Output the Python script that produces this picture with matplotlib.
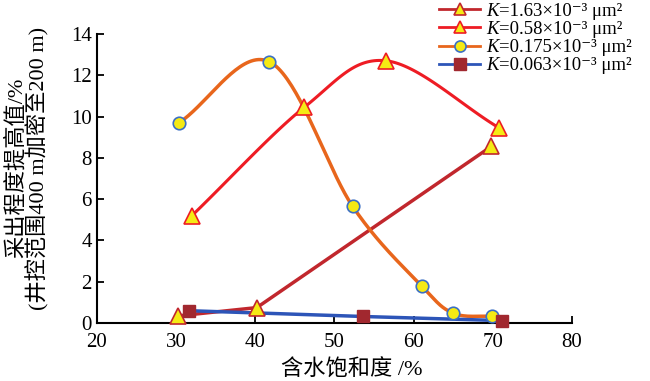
import numpy as np
import matplotlib
matplotlib.use("Agg")
import matplotlib.pyplot as plt

plt.rcParams['font.family'] = ['Liberation Serif', 'DejaVu Serif', 'Noto Sans CJK SC']

# data
x_k163 = [30.3, 40.2, 69.8]
y_k163 = [0.35, 0.75, 8.55]
x_k058 = [32.0, 46.2, 56.5, 70.8]
y_k058 = [5.2, 10.45, 12.7, 9.45]
x_k0175 = [30.4, 41.8, 52.3, 61.0, 65.0, 69.9]
y_k0175 = [9.7, 12.65, 5.65, 1.8, 0.48, 0.32]
x_k0063 = [31.6, 53.6, 71.1]
y_k0063 = [0.6, 0.32, 0.12]

# legend text after the italic K
labels = ['=1.63×10⁻³ μm²', '=0.58×10⁻³ μm²', '=0.175×10⁻³ μm²', '=0.063×10⁻³ μm²']


def smooth(xs, ys, n=40):
    # catmull-rom through the points, like the spreadsheet "smoothed line"
    p = np.column_stack([xs, ys])
    p = np.vstack([2 * p[0] - p[1], p, 2 * p[-1] - p[-2]])
    out = []
    t = np.linspace(0, 1, n)[:, None]
    for i in range(1, len(p) - 2):
        p0, p1, p2, p3 = p[i - 1], p[i], p[i + 1], p[i + 2]
        seg = 0.5 * ((2 * p1) + (-p0 + p2) * t + (2 * p0 - 5 * p1 + 4 * p2 - p3) * t ** 2
                     + (-p0 + 3 * p1 - 3 * p2 + p3) * t ** 3)
        out.append(seg)
    out = np.vstack(out)
    return out[:, 0], out[:, 1]


fig = plt.figure(figsize=(6.5, 3.81), dpi=100)
ax = fig.add_axes([0.149, 0.152, 0.731, 0.759])

c1, c2, c3, c4 = '#c1272d', '#ee1c24', '#e8661c', '#2d55b8'
tri = dict(marker='^', markersize=11, markerfacecolor='#f5ea14', markeredgewidth=1.2)
circ = dict(marker='o', markersize=9, markerfacecolor='#f5ea14', markeredgecolor='#3b6fc4', markeredgewidth=1.2)
sq = dict(marker='s', markersize=9, markerfacecolor='#a1282f', markeredgecolor='#a1282f')

ax.plot(x_k163, y_k163, color=c1, lw=2.5, zorder=2)
sx, sy = smooth(x_k058, y_k058)
ax.plot(sx, sy, color=c2, lw=2.2, zorder=2)
sx, sy = smooth(x_k0175, y_k0175)
ax.plot(sx, sy, color=c3, lw=2.5, zorder=2)
ax.plot(x_k0063, y_k0063, color=c4, lw=2.5, zorder=3)

ax.plot(x_k163, y_k163, ls='none', markeredgecolor=c1, zorder=4, clip_on=False, **tri)
ax.plot(x_k058, y_k058, ls='none', markeredgecolor=c2, zorder=4, clip_on=False, **tri)
ax.plot(x_k0175, y_k0175, ls='none', zorder=4, clip_on=False, **circ)
ax.plot(x_k0063, y_k0063, ls='none', zorder=5, clip_on=False, **sq)

# legend handles
h1, = ax.plot([], [], color=c1, lw=2, markeredgecolor=c1, **{**tri, 'markersize': 9})
h2, = ax.plot([], [], color=c2, lw=2, markeredgecolor=c2, **{**tri, 'markersize': 9})
h3, = ax.plot([], [], color=c3, lw=2, **{**circ, 'markersize': 8})
h4, = ax.plot([], [], color=c4, lw=2, **{**sq, 'markersize': 8})
leg = fig.legend([h1, h2, h3, h4], labels, loc='upper left', bbox_to_anchor=(0.655, 1.028),
                 frameon=False, fontsize=13.5, handlelength=2.2, handletextpad=1.0,
                 labelspacing=0.06, borderpad=0.2)

ax.set_xlim(20, 80)
ax.set_ylim(0, 14)
ax.set_xticks(range(20, 81, 10))
ax.set_yticks(range(0, 15, 2))
ax.spines['top'].set_visible(False)
ax.spines['right'].set_visible(False)
ax.spines['left'].set_linewidth(1.5)
ax.spines['bottom'].set_linewidth(1.5)
ax.tick_params(direction='in', length=5, width=1.3, labelsize=15)
ax.tick_params(axis='x', pad=7)
ax.set_xlabel('含水饱和度 /%', fontsize=16)
ax.xaxis.set_label_coords(0.537, -0.125)
ax.set_ylabel('采出程度提高值/%\n(井控范围400 m加密至200 m)', fontsize=16,
              linespacing=0.95)
ax.yaxis.set_label_coords(-0.099, 0.536)

# italic K in front of each legend label
fig.canvas.draw()
W, H = fig.bbox.width, fig.bbox.height
for txt in leg.get_texts():
    bb = txt.get_window_extent()
    fig.text((bb.x0 - 0.5) / W, bb.y0 / H, 'K', style='italic', fontsize=13.5,
             family='Liberation Serif', ha='right', va='bottom')

fig.savefig('out.png', dpi=100)
